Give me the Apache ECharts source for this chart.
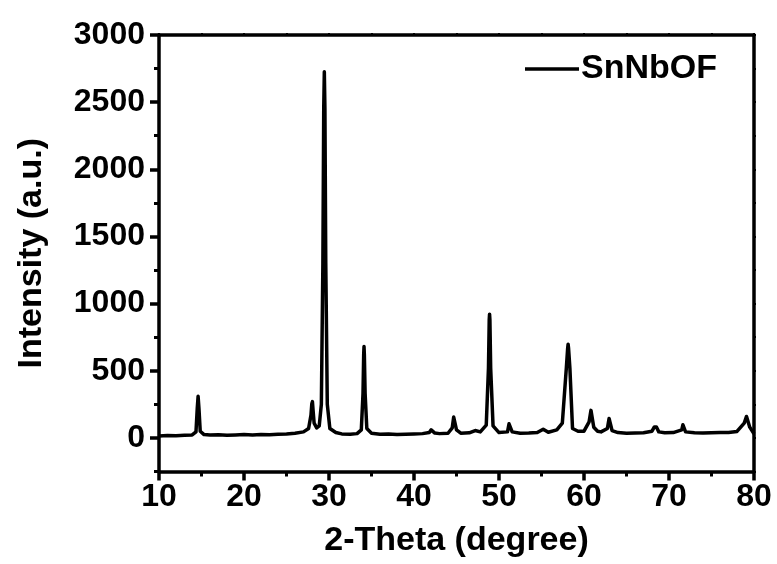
<!DOCTYPE html>
<html><head><meta charset="utf-8">
<script src="https://cdn.jsdelivr.net/npm/echarts@6/dist/echarts.min.js"></script>
<style>html,body{margin:0;padding:0;background:#fff}#c{width:777px;height:564px}</style>
</head><body><div id="c"></div>
<script>
const twoTheta = [10,11,12,13,13.9,14.35,14.5,14.6,14.7,14.85,15.3,16,17,18,19,20,21,22,23,24,25,26,27,27.6,27.88,27.98,28.05,28.12,28.25,28.55,28.85,29.1,29.28,29.38,29.45,29.52,29.62,29.8,30.1,30.8,31.5,32.5,33.3,33.8,34.0,34.08,34.12,34.16,34.25,34.45,35,36,37,38,39,40,41,41.8,42.02,42.1,42.18,42.45,43,44,44.5,44.67,44.73,44.79,45.0,45.5,46.5,47.2,47.8,48.5,48.76,48.85,48.89,48.93,49.02,49.3,50,51.0,51.18,51.25,51.32,51.55,52.5,53.5,54.5,55.2,55.8,56.8,57.45,57.92,58.08,58.13,58.18,58.34,58.65,59.3,60.0,60.6,60.82,60.87,60.92,61.15,61.6,62,62.75,62.95,63.0,63.05,63.3,64,65,66,67,68,68.28,68.4,68.52,68.8,69.5,70.5,71.5,71.64,71.7,71.76,71.95,73,74,75,76,77,78,78.85,79.12,79.2,79.28,79.5,80];
const intensity = [15,18,16,20,22,45,220,310,220,50,25,22,24,20,22,25,22,26,24,28,30,35,45,70,170,255,270,210,110,75,90,250,1300,2450,2727,2450,1300,250,70,40,30,28,32,60,330,620,680,620,330,70,35,28,30,26,28,30,32,40,60,67,60,36,32,35,75,155,164,155,60,35,38,55,45,95,520,880,921,880,520,90,40,45,105,117,105,45,35,36,40,65,42,60,110,520,670,697,670,520,70,50,50,120,205,213,205,80,50,45,70,145,151,145,55,40,35,36,38,50,82,89,82,45,38,40,60,98,102,98,45,38,36,38,40,40,48,110,160,164,150,80,30];
const seriesName = 'SnNbOF';
const yMajorTicks = [0,500,1000,1500,2000,2500,3000];
const yMinorTicks = [-250,250,750,1250,1750,2250,2750];
const yAllTicks = [-250,0,250,500,750,1000,1250,1500,1750,2000,2250,2500,2750,3000];

const FONT = '"Liberation Sans", Arial, sans-serif';
const lineStyle = {color:'#000', width:3.5};
const data = twoTheta.map((t,i)=>[t,intensity[i]]);
const plain = v => String(v);

const chart = echarts.init(document.getElementById('c'), null, {renderer:'canvas'});
chart.setOption({
  animation:false,
  backgroundColor:'#fff',
  grid:{left:159, top:35, width:595, height:436.5, show:false},
  legend:{
    show:true, left:520, top:47, icon:'rect', itemWidth:54, itemHeight:3.5, itemGap:0,
    textStyle:{fontFamily:FONT, fontWeight:'bold', fontSize:34, color:'#000', padding:[0,0,0,-3]},
    data:[seriesName]
  },
  xAxis:[{
    type:'value', min:10, max:80, interval:10, position:'bottom',
    name:'2-Theta (degree)', nameLocation:'middle', nameGap:52,
    nameTextStyle:{fontFamily:FONT, fontWeight:'bold', fontSize:34, color:'#000'},
    axisLine:{show:true, onZero:false, lineStyle:lineStyle},
    axisTick:{show:true, inside:false, length:9, lineStyle:lineStyle},
    minorTick:{show:true, splitNumber:2, length:5, lineStyle:{color:'#000', width:3}},
    axisLabel:{fontFamily:FONT, fontWeight:'bold', fontSize:32, color:'#000', margin:10, formatter:plain},
    splitLine:{show:false}
  },{
    type:'value', min:10, max:80, interval:5, position:'top',
    axisLine:{show:true, onZero:false, lineStyle:lineStyle},
    axisTick:{show:true, length:2, lineStyle:{color:'#000', width:2}},
    axisLabel:{show:false}, splitLine:{show:false}
  }],
  yAxis:[{
    type:'value', min:-250, max:3000, interval:250, position:'left',
    name:'Intensity (a.u.)', nameLocation:'middle', nameGap:110, nameRotate:90,
    nameTextStyle:{fontFamily:FONT, fontWeight:'bold', fontSize:34, color:'#000'},
    axisLine:{show:true, onZero:false, lineStyle:lineStyle},
    axisTick:{show:true, length:9, lineStyle:lineStyle, customValues:yMajorTicks},
    axisLabel:{fontFamily:FONT, fontWeight:'bold', fontSize:32, color:'#000', margin:14, customValues:yMajorTicks, formatter:plain},
    splitLine:{show:false}
  },{
    type:'value', min:-250, max:3000, interval:250, position:'left',
    axisLine:{show:false},
    axisTick:{show:true, length:5, lineStyle:{color:'#000', width:3}, customValues:yMinorTicks},
    axisLabel:{show:false}, splitLine:{show:false}
  },{
    type:'value', min:-250, max:3000, interval:250, position:'right',
    axisLine:{show:true, onZero:false, lineStyle:lineStyle},
    axisTick:{show:true, length:2, lineStyle:{color:'#000', width:2}, customValues:yAllTicks},
    axisLabel:{show:false}, splitLine:{show:false}
  }],
  series:[{
    name:seriesName, type:'line', xAxisIndex:0, yAxisIndex:0,
    data:data, showSymbol:false, symbol:'none',
    lineStyle:{color:'#000', width:3.5, join:'round'}, itemStyle:{color:'#000'},
    z:3
  }]
});
</script></body></html>
